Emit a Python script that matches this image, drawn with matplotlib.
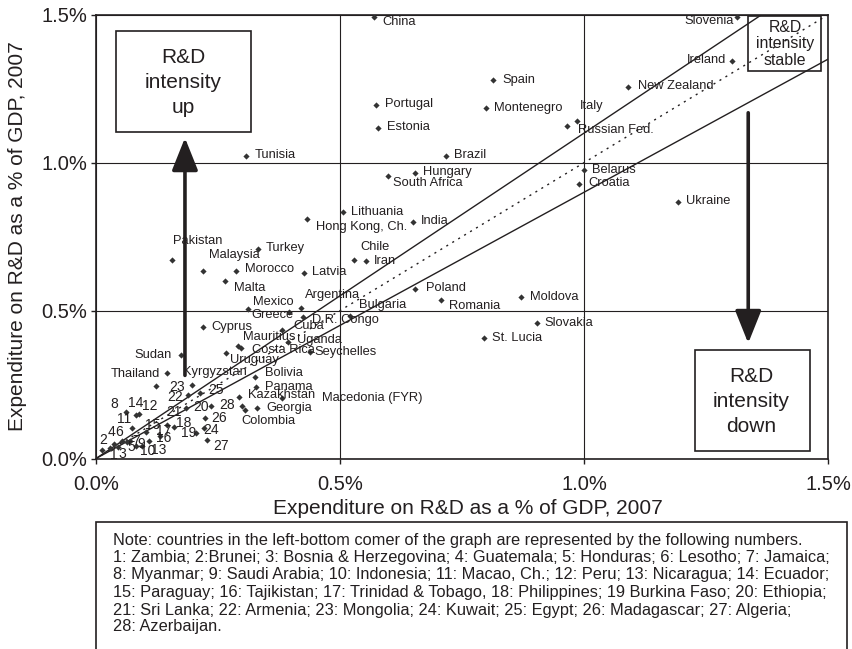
import numpy as np
import matplotlib
matplotlib.use('Agg')
import matplotlib.pyplot as plt
from matplotlib.patches import Rectangle, FancyArrowPatch

plt.rcParams['font.family'] = ['Liberation Sans', 'DejaVu Sans']

# named countries: R&D spend (% of GDP), x and y
countries = ['China', 'Slovenia', 'Ireland', 'New Zealand', 'Spain', 'Portugal',
             'Montenegro', 'Italy', 'Russian Fed.', 'Estonia', 'Tunisia', 'Brazil',
             'Belarus', 'Hungary', 'South Africa', 'Croatia', 'Ukraine', 'Lithuania',
             'Hong Kong, Ch.', 'India', 'Turkey', 'Pakistan', 'Chile', 'Iran',
             'Malaysia', 'Morocco', 'Latvia', 'Malta', 'Poland', 'Moldova', 'Romania',
             'Argentina', 'Mexico', 'Greece', 'Bulgaria', 'D.R. Congo', 'Slovakia',
             'Cyprus', 'Cuba', 'St. Lucia', 'Uganda', 'Mauritius', 'Costa Rica',
             'Seychelles', 'Uruguay', 'Sudan', 'Thailand', 'Bolivia', 'Kyrgyzstan',
             'Panama', 'Kazakhstan', 'Macedonia (FYR)', 'Georgia', 'Colombia']
rd_x = [0.570, 1.313, 1.302, 1.090, 0.814, 0.574, 0.799, 0.986, 0.965, 0.578,
        0.307, 0.716, 1.000, 0.653, 0.599, 0.990, 1.192, 0.505, 0.433, 0.649,
        0.331, 0.156, 0.528, 0.554, 0.219, 0.286, 0.426, 0.265, 0.654, 0.870,
        0.706, 0.419, 0.312, 0.396, 0.520, 0.425, 0.903, 0.219, 0.380, 0.795,
        0.394, 0.291, 0.296, 0.438, 0.266, 0.174, 0.145, 0.326, 0.122, 0.328,
        0.293, 0.380, 0.330, 0.306]
rd_y = [1.491, 1.493, 1.344, 1.256, 1.278, 1.193, 1.183, 1.140, 1.124, 1.118,
        1.023, 1.023, 0.975, 0.966, 0.955, 0.928, 0.868, 0.832, 0.809, 0.799,
        0.709, 0.671, 0.671, 0.666, 0.633, 0.634, 0.628, 0.599, 0.573, 0.546,
        0.536, 0.507, 0.504, 0.496, 0.481, 0.477, 0.458, 0.444, 0.434, 0.407,
        0.395, 0.381, 0.372, 0.360, 0.355, 0.350, 0.288, 0.276, 0.245, 0.243,
        0.209, 0.203, 0.170, 0.165]

# numbered countries in the bottom-left corner (1..28)
num_x = [0.029, 0.013, 0.045, 0.037, 0.070, 0.053, 0.063, 0.061, 0.081, 0.094,
         0.073, 0.088, 0.109, 0.081, 0.102, 0.131, 0.145, 0.160, 0.204, 0.236,
         0.184, 0.188, 0.196, 0.221, 0.214, 0.223, 0.228, 0.300]
num_y = [0.035, 0.029, 0.039, 0.049, 0.059, 0.060, 0.056, 0.156, 0.041, 0.041,
         0.104, 0.149, 0.059, 0.147, 0.089, 0.076, 0.113, 0.107, 0.087, 0.177,
         0.172, 0.215, 0.248, 0.103, 0.222, 0.138, 0.063, 0.177]

band_slopes = [1.1, 0.9]

note_lines = [
    "Note: countries in the left-bottom comer of the graph are represented by the following numbers.",
    "1: Zambia; 2:Brunei; 3: Bosnia & Herzegovina; 4: Guatemala; 5: Honduras; 6: Lesotho; 7: Jamaica;",
    "8: Myanmar; 9: Saudi Arabia; 10: Indonesia; 11: Macao, Ch.; 12: Peru; 13: Nicaragua; 14: Ecuador;",
    "15: Paraguay; 16: Tajikistan; 17: Trinidad & Tobago, 18: Philippines; 19 Burkina Faso; 20: Ethiopia;",
    "21: Sri Lanka; 22: Armenia; 23: Mongolia; 24: Kuwait; 25: Egypt; 26: Madagascar; 27: Algeria;",
    "28: Azerbaijan.",
]

# label placement (pixel offsets from the marker, alignment)
name_off = [(8.4, -4.4, 'left'), (-3, -4, 'right'), (-5.3, 0.7, 'right'), (9.4, 0.7, 'left'),
            (8.6, 0.3, 'left'), (9, 1, 'left'), (8.3, 0, 'left'), (2.3, 15, 'left'),
            (11, -4.3, 'left'), (9, 0.7, 'left'), (8.3, 0.4, 'left'), (8.3, 0.7, 'left'),
            (8, 0, 'left'), (8.6, 1, 'left'), (5, -7.6, 'left'), (9, 0.4, 'left'),
            (8.4, 1, 'left'), (8.3, 0, 'left'), (8.4, -7.7, 'left'), (8, 1, 'left'),
            (8, 1, 'left'), (1, 19.3, 'left'), (7, 12.7, 'left'), (7.7, 0.6, 'left'),
            (6.3, 16, 'left'), (9, 1.7, 'left'), (8.3, 1, 'left'), (8.7, -7, 'left'),
            (10.4, 0.7, 'left'), (9, 0, 'left'), (8.3, -6.3, 'left'), (4.3, 13.3, 'left'),
            (4.4, 7, 'left'), (-37.6, -3.3, 'left'), (9.3, 11, 'left'), (8.4, -2.7, 'left'),
            (8, 0, 'left'), (8.3, 0.3, 'left'), (11.6, 4.3, 'left'), (8, 0, 'left'),
            (8.4, 1.7, 'left'), (5, 9, 'left'), (11, -1.7, 'left'), (5, 0.3, 'left'),
            (4, -6.7, 'left'), (-9, 0, 'right'), (-6.7, -0.7, 'right'), (9.7, 3.4, 'left'),
            (27.3, 14, 'left'), (9, 0, 'left'), (9, 1.7, 'left'), (40, 0.3, 'left'),
            (9.4, 0, 'left'), (-3.7, -11.3, 'left')]
num_off = [(4, -6.5), (1, 9.5), (4.5, -7.5), (-2.5, 12), (1, -6), (-2.5, 8.7), (9, 1),
           (-11, 8.3), (5.3, 2.3), (6.3, -4.7), (-7.7, 8.4), (11, 8.3), (9, -8.7),
           (0, 12.3), (7.3, 7.3), (4, -2.3), (-2.7, -6), (10, 3.4), (-6.7, -0.6),
           (-9.8, -1.3), (-11.7, -4), (-12.3, -2.3), (-14.4, -1.7), (7, -2), (16, 2.7),
           (14.3, 0), (13.4, -6), (-15, 1)]

ink = '#231f20'

fig = plt.figure(figsize=(8.53, 6.49), dpi=100)
ax = fig.add_axes([0.1125, 0.2935, 0.8587, 0.6841])
ax.set_xlim(0, 1.5)
ax.set_ylim(0, 1.5)

ticks = [0, 0.5, 1.0, 1.5]
ax.set_xticks(ticks)
ax.set_yticks(ticks)
ax.set_xticklabels(['%.1f%%' % t for t in ticks])
ax.set_yticklabels(['%.1f%%' % t for t in ticks])
ax.tick_params(direction='out', length=3.6, width=1, labelsize=14.5, colors=ink)
ax.tick_params(axis='y', pad=2.7)
ax.tick_params(axis='x', pad=8)
ax.grid(True, color=ink, lw=0.8, zorder=0)
ax.set_axisbelow(True)
for sp in ax.spines.values():
    sp.set_linewidth(1.2)
    sp.set_color(ink)

# stable band and the 45 degree line
xs = np.array([0, 1.5])
for s in band_slopes:
    ax.plot(xs, s * xs, color=ink, lw=1.0, zorder=2)
ax.plot(xs, xs, color=ink, lw=1.0, ls=(0, (1.5, 3.5)), zorder=2)

ax.scatter(rd_x, rd_y, marker='D', s=10, color='#333333', lw=0, zorder=3)
ax.scatter(num_x, num_y, marker='D', s=10, color='#333333', lw=0, zorder=3)

for name, x, y, (dx, dy, ha) in zip(countries, rd_x, rd_y, name_off):
    ax.annotate(name, (x, y), xytext=(dx, dy), textcoords='offset pixels',
                ha=ha, va='center', fontsize=9.3, color=ink, zorder=4)
for i, (x, y, (dx, dy)) in enumerate(zip(num_x, num_y, num_off)):
    ax.annotate(str(i + 1), (x, y), xytext=(dx, dy), textcoords='offset pixels',
                ha='center', va='center', fontsize=10, color=ink, zorder=4)

# boxes with the three regions
boxes = [((0.0269, 0.7347), 0.1843, 0.2281, 'R&D\nintensity\nup', (0.119, 0.847), 15, 1.4),
         ((0.8177, 0.0176), 0.1571, 0.2268, 'R&D\nintensity\ndown', (0.895, 0.128), 15, 1.38),
         ((0.8905, 0.8734), 0.0988, 0.1239, 'R&D\nintensity\nstable', (0.9406, 0.934), 11.4, 1.12)]
for (x0, y0), w, h, txt, (tx, ty), fs, lsp in boxes:
    ax.add_patch(Rectangle((x0, y0), w, h, transform=ax.transAxes, fill=False,
                           ec=ink, lw=1.2, zorder=5))
    ax.text(tx, ty, txt, transform=ax.transAxes, ha='center', va='center',
            fontsize=fs, color=ink, linespacing=lsp, zorder=5)

arrows = [((0.1215, 0.181), (0.1215, 0.7286)), ((0.8905, 0.785), (0.8905, 0.2534))]
for a, b in arrows:
    ax.add_patch(FancyArrowPatch(a, b, transform=ax.transAxes,
                                 arrowstyle='-|>,head_length=1.0,head_width=0.4',
                                 mutation_scale=20, lw=2.6, color=ink, zorder=6))

ax.text(0.508, -0.112, 'Expenditure on R&D as a % of GDP, 2007', transform=ax.transAxes,
        ha='center', va='center', fontsize=15, color=ink)
ax.text(-0.1065, 0.501, 'Expenditure on R&D as a % of GDP, 2007', transform=ax.transAxes,
        ha='center', va='center', rotation=90, fontsize=15, color=ink)

# note box under the chart
fig.add_artist(Rectangle((96 / 853, -0.01), 751 / 853, 0.01 + 1 - 521.7 / 649,
                         transform=fig.transFigure, fill=False, ec=ink, lw=1.2))
note_y = [540, 557.3, 575, 592.3, 610, 626.7]
for line, py in zip(note_lines, note_y):
    fig.text(113.3 / 853, 1 - py / 649, line, ha='left', va='center',
             fontsize=11.8, color=ink)

fig.savefig('out.png', dpi=100)
